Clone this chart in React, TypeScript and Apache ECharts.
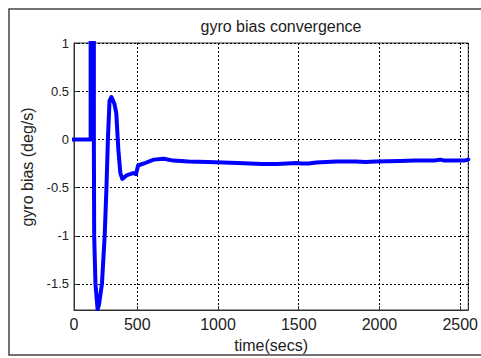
import React, { useEffect, useRef } from "react";
import * as echarts from "echarts";

const title = "gyro bias convergence";
const xName = "time(secs)";
const yName = "gyro bias (deg/s)";
const xMin = 108;
const xMax = 2550;
const yMin = -1.77;
const yMax = 1;

const timeSecs = [
  0, 211, 211, 221, 221, 221, 231, 231, 233, 241, 254, 262, 281, 298, 309, 318,
  328, 340, 358, 370, 382, 395, 407, 437, 474, 492, 505, 541, 602, 663, 724, 816,
  938, 1121, 1273, 1365, 1487, 1517, 1560, 1609, 1731, 1853, 1914, 1975, 2127,
  2219, 2341, 2377, 2402, 2524, 2550,
];
const gyroBias = [
  0, 0, 3, 3, 0, 3, 3, 0, -1.0, -1.5, -1.76, -1.72, -1.5, -1.0, -0.5, 0.0, 0.4,
  0.44, 0.37, 0.27, -0.09, -0.35, -0.41, -0.37, -0.35, -0.36, -0.27, -0.25,
  -0.21, -0.2, -0.22, -0.23, -0.235, -0.245, -0.255, -0.255, -0.245, -0.25,
  -0.25, -0.24, -0.23, -0.23, -0.235, -0.23, -0.225, -0.22, -0.22, -0.21, -0.22,
  -0.22, -0.21,
];

export default function App() {
  const ref = useRef<HTMLDivElement>(null);
  useEffect(() => {
    if (!ref.current) return;
    const chart = echarts.init(ref.current, null, { renderer: "svg" });
    const font = "Liberation Sans, Arial, sans-serif";
    const gridLine = { show: true, lineStyle: { color: "#000", type: [2, 2], width: 1 } };
    chart.setOption({
      animation: false,
      backgroundColor: "#ffffff",
      title: {
        text: title,
        left: 276,
        textAlign: "center",
        top: 13,
        textStyle: { fontFamily: font, fontSize: 16, fontWeight: "normal", color: "#222" },
      },
      grid: {
        left: 74,
        right: 7,
        top: 43,
        bottom: 45,
        show: true,
        borderColor: "#333",
        borderWidth: 1,
        backgroundColor: "#fff",
      },
      xAxis: {
        type: "value",
        min: xMin,
        max: xMax,
        splitNumber: 5,
        name: xName,
        nameLocation: "middle",
        nameGap: 27,
        nameTextStyle: { fontFamily: font, fontSize: 16, color: "#222" },
        axisLine: { show: true, onZero: false, lineStyle: { color: "#333", width: 1 } },
        axisTick: { show: true, inside: true, length: 4, lineStyle: { color: "#333" } },
        axisLabel: {
          fontFamily: font,
          fontSize: 16,
          color: "#222",
          margin: 6,
          formatter: (v: number) => (v === xMin ? "0" : v === xMax ? "" : String(v)),
        },
        splitLine: gridLine,
      },
      yAxis: {
        type: "value",
        min: yMin,
        max: yMax,
        splitNumber: 5,
        axisLine: { show: true, onZero: false, lineStyle: { color: "#333", width: 1 } },
        axisTick: { show: true, inside: true, length: 4, lineStyle: { color: "#333" } },
        axisLabel: {
          fontFamily: font,
          fontSize: 13,
          color: "#222",
          margin: 5,
          formatter: (v: number) => (v === yMin ? "" : String(v)),
        },
        splitLine: gridLine,
      },
      graphic: [
        {
          type: "text",
          x: 27,
          y: 167,
          rotation: Math.PI / 2,
          style: {
            text: yName,
            font: `16px ${font}`,
            fill: "#222",
            textAlign: "center",
            textVerticalAlign: "middle",
          },
        },
        {
          type: "rect",
          shape: { x: 9, y: 9, width: 480, height: 346 },
          style: { fill: "none", stroke: "#444", lineWidth: 1.5 },
          silent: true,
        },
      ],
      series: [
        {
          type: "line",
          data: timeSecs.map((t, i) => [t, gyroBias[i]]),
          showSymbol: false,
          clip: true,
          lineStyle: { color: "#0000ff", width: 4, join: "round", cap: "round" },
        },
      ],
    });
    return () => chart.dispose();
  }, []);
  return (
    <div
      ref={ref}
      style={{ position: "fixed", left: 0, top: 0, width: 481, height: 358 }}
    />
  );
}
